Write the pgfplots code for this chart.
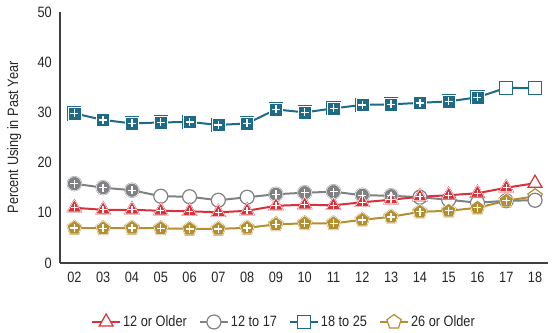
\documentclass[border=0pt]{standalone}
\usepackage{fontspec}
\setmainfont[FakeStretch=0.85]{Liberation Sans}
\usepackage{pgfplots}
\pgfplotsset{compat=1.18}
\definecolor{cred}{HTML}{D7313A}
\definecolor{cgray}{HTML}{808184}
\definecolor{cteal}{HTML}{1E6A87}
\definecolor{cgold}{HTML}{B38F30}
\begin{document}
\fontsize{15bp}{18bp}\selectfont
\begin{tikzpicture}
\useasboundingbox (-60bp,-70bp) rectangle (496bp,263bp);
\begin{axis}[at={(0,0)}, anchor=south west, scale only axis,
  width=488bp, height=251bp,
  xmin=1.5, xmax=18.45, ymin=0, ymax=50, clip=false,
  axis lines=left, axis line style={-, draw=black!75, line width=1.2bp},
  xtick={2,...,18}, xticklabels={02,03,04,05,06,07,08,09,10,11,12,13,14,15,16,17,18},
  ytick={0,10,...,50},
  major tick length=0pt,
  /pgf/number format/assume math mode=true,
  tick label style={inner sep=0pt, font=\fontsize{15bp}{18bp}\selectfont, text=black!85},
  xticklabel style={yshift=-9bp}, yticklabel style={xshift=-8bp},
  ylabel={Percent Using in Past Year},
  ylabel style={at={(axis description cs:-0.094,0.5)}, anchor=center, font=\fontsize{15bp}{18bp}\selectfont, text=black!85},
  legend image code/.code={\draw[mark repeat=2,mark phase=2,#1] plot coordinates {(0bp,0bp)(14bp,0bp)(28bp,0bp)};},
  legend style={draw=none, fill=none, legend columns=4, at={(0.459,-0.235)}, anchor=center,
    font=\fontsize{15bp}{18bp}\selectfont, text=black!85,
    /tikz/every even column/.append style={column sep=10bp}},
]
\addlegendimage{cred, line width=2bp, mark=triangle*, mark size=8bp, mark options={fill=white, draw=cred, line width=1.2bp}}
\addlegendimage{cgray, line width=2bp, mark=*, mark size=7bp, mark options={fill=white, draw=cgray, line width=1.2bp}}
\addlegendimage{cteal, line width=2bp, mark=square*, mark size=6.5bp, mark options={fill=white, draw=cteal, line width=1.2bp}}
\addlegendimage{cgold, line width=2bp, mark=pentagon*, mark size=7.5bp, mark options={fill=white, draw=cgold, line width=1.2bp}}
\legend{12 or Older, 12 to 17, 18 to 25, 26 or Older}

% lines with open markers
\addplot[cgold, line width=2bp, mark=pentagon*, mark size=7.5bp, mark options={fill=white, draw=cgold, line width=1.2bp}, forget plot] coordinates {
(2,7.0)(3,6.9)(4,7.0)(5,6.9)(6,6.8)(7,6.8)(8,7.0)(9,7.7)(10,7.9)(11,7.9)(12,8.6)(13,9.2)(14,10.2)(15,10.4)(16,11.0)(17,12.4)(18,13.3)};
\addplot[cgray, line width=2bp, mark=*, mark size=7bp, mark options={fill=white, draw=cgray, line width=1.2bp}, forget plot] coordinates {
(2,15.8)(3,15.0)(4,14.5)(5,13.3)(6,13.2)(7,12.5)(8,13.1)(9,13.7)(10,14.0)(11,14.2)(12,13.5)(13,13.4)(14,13.1)(15,12.6)(16,12.0)(17,12.4)(18,12.5)};
\addplot[cred, line width=2bp, mark=triangle*, mark size=8bp, mark options={fill=white, draw=cred, line width=1.2bp}, forget plot] coordinates {
(2,11.0)(3,10.6)(4,10.6)(5,10.4)(6,10.3)(7,10.1)(8,10.4)(9,11.4)(10,11.6)(11,11.5)(12,12.1)(13,12.6)(14,13.2)(15,13.5)(16,13.9)(17,15.0)(18,15.9)};
\addplot[cteal, line width=2bp, mark=square*, mark size=6.5bp, mark options={fill=white, draw=cteal, line width=1.2bp}, forget plot] coordinates {
(2,29.8)(3,28.5)(4,27.8)(5,28.0)(6,28.1)(7,27.5)(8,27.8)(9,30.6)(10,30.0)(11,30.8)(12,31.5)(13,31.6)(14,31.9)(15,32.2)(16,33.0)(17,34.9)(18,34.8)};

% filled markers (significant differences)
\addplot[only marks, mark=pentagon*, mark size=7.5bp, mark options={fill=cgold, draw=white, line width=0.5bp}, forget plot] coordinates {
(2,7.0)(3,6.9)(4,7.0)(5,6.9)(6,6.8)(7,6.8)(8,7.0)(9,7.7)(10,7.9)(11,7.9)(12,8.6)(13,9.2)(14,10.2)(15,10.4)(16,11.0)(17,12.4)};
\addplot[only marks, mark=*, mark size=7bp, mark options={fill=cgray, draw=white, line width=0.5bp}, forget plot] coordinates {
(2,15.8)(3,15.0)(4,14.5)(9,13.7)(10,14.0)(11,14.2)(12,13.5)(13,13.4)};
\addplot[only marks, mark=triangle*, mark size=8bp, mark options={fill=cred, draw=white, line width=0.5bp}, forget plot] coordinates {
(2,11.0)(3,10.6)(4,10.6)(5,10.4)(6,10.3)(7,10.1)(8,10.4)(9,11.4)(10,11.6)(11,11.5)(12,12.1)(13,12.6)(14,13.2)(15,13.5)(16,13.9)(17,15.0)};
\addplot[only marks, mark=square*, mark size=6.5bp, mark options={fill=cteal, draw=white, line width=0.5bp}, forget plot] coordinates {
(2,29.8)(3,28.5)(4,27.8)(5,28.0)(6,28.1)(7,27.5)(8,27.8)(9,30.6)(10,30.0)(11,30.8)(12,31.5)(13,31.6)(14,31.9)(15,32.2)(16,33.0)};

% white plus signs
\addplot[only marks, mark=+, mark size=4bp, mark options={draw=white, line width=1.4bp}, forget plot] coordinates {
(2,7.0)(3,6.9)(4,7.0)(5,6.9)(6,6.8)(7,6.8)(8,7.0)(9,7.7)(10,7.9)(11,7.9)(12,8.6)(13,9.2)(14,10.2)(15,10.4)(16,11.0)(17,12.4)};
\addplot[only marks, mark=+, mark size=4bp, mark options={draw=white, line width=1.4bp}, forget plot] coordinates {
(2,15.8)(3,15.0)(4,14.5)(9,13.7)(10,14.0)(11,14.2)(12,13.5)(13,13.4)};
\addplot[only marks, mark=+, mark size=3.6bp, mark options={draw=white, line width=1.4bp}, forget plot] coordinates {
(2,11.0)(3,10.6)(4,10.6)(5,10.4)(6,10.3)(7,10.1)(8,10.4)(9,11.4)(10,11.6)(11,11.5)(12,12.1)(13,12.6)(14,13.2)(15,13.5)(16,13.9)(17,15.0)};
\addplot[only marks, mark=+, mark size=4bp, mark options={draw=white, line width=1.4bp}, forget plot] coordinates {
(2,29.8)(3,28.5)(4,27.8)(5,28.0)(6,28.1)(7,27.5)(8,27.8)(9,30.6)(10,30.0)(11,30.8)(12,31.5)(13,31.6)(14,31.9)(15,32.2)(16,33.0)};
\end{axis}
\end{tikzpicture}
\end{document}
